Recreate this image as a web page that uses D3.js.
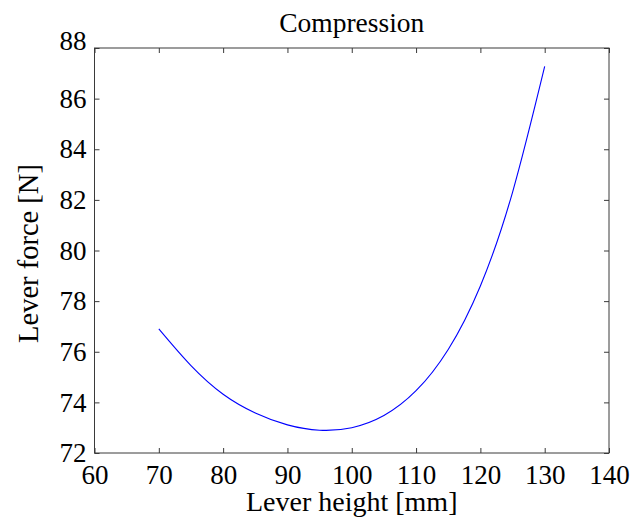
<!DOCTYPE html>
<html>
<head>
<meta charset="utf-8">
<script src="https://cdn.jsdelivr.net/npm/d3@7"></script>
<style>
  html, body { margin: 0; padding: 0; background: #fff; }
  svg { display: block; }
  svg text { font-family: "Liberation Serif", serif; }
</style>
</head>
<body>
<svg id="chart" width="630" height="520"></svg>
<script>
const heights = [70, 75, 80, 85, 90, 95, 100, 105, 110, 115, 120, 125, 130];
const forces  = [76.9, 75.45, 74.32, 73.58, 73.11, 72.9, 73.0, 73.48, 74.46, 76.09, 78.6, 82.3, 87.27];
const xTicks = [60, 70, 80, 90, 100, 110, 120, 130, 140];
const yTicks = [72, 74, 76, 78, 80, 82, 84, 86, 88];
const titleText = "Compression";
const xLabelText = "Lever height [mm]";
const yLabelText = "Lever force [N]";

const svg = d3.select("#chart");
const m = { left: 94.5, right: 609, top: 48, bottom: 453 };

const x = d3.scaleLinear().domain([60, 140]).range([m.left, m.right]);
const y = d3.scaleLinear().domain([72, 88]).range([m.bottom, m.top]);

const axisColor = "#3a3a3a";
const tickLen = 5;
const serif = '"Liberation Serif", serif';
const fontSize = 27;

svg.append("rect")
  .attr("x", m.left).attr("y", m.top)
  .attr("width", m.right - m.left).attr("height", m.bottom - m.top)
  .attr("fill", "none").attr("stroke", axisColor).attr("stroke-width", 1);

const xAxisB = d3.axisBottom(x).tickValues(xTicks).tickSize(-tickLen).tickPadding(12).tickFormat(d3.format("d"));
const xAxisT = d3.axisTop(x).tickValues(xTicks).tickSize(-tickLen).tickFormat("");
const yAxisL = d3.axisLeft(y).tickValues(yTicks).tickSize(-tickLen).tickPadding(8).tickFormat(d3.format("d"));
const yAxisR = d3.axisRight(y).tickValues(yTicks).tickSize(-tickLen).tickFormat("");

function styleAxis(g) {
  g.attr("font-family", null).attr("font-size", null);
  g.select(".domain").remove();
  g.selectAll(".tick line").attr("stroke", axisColor).attr("stroke-width", 1);
  g.selectAll(".tick text").style("font-family", serif).style("font-size", fontSize + "px").attr("fill", "#000");
}

svg.append("g").attr("transform", `translate(0,${m.bottom})`).call(xAxisB).call(styleAxis);
svg.append("g").attr("transform", `translate(0,${m.top})`).call(xAxisT).call(styleAxis);
const gy = svg.append("g").attr("transform", `translate(${m.left},0)`).call(yAxisL).call(styleAxis);
svg.append("g").attr("transform", `translate(${m.right},0)`).call(yAxisR).call(styleAxis);

// top label sits slightly above the top edge, as in the reference
gy.selectAll(".tick text").filter(d => d === 88).attr("dy", "0.06em");

const line = d3.line()
  .x((d, i) => x(heights[i]))
  .y(d => y(d))
  .curve(d3.curveNatural);

svg.append("path")
  .datum(forces)
  .attr("d", line)
  .attr("fill", "none")
  .attr("stroke", "#0000ff")
  .attr("stroke-width", 1.1);

svg.append("text")
  .attr("x", (m.left + m.right) / 2).attr("y", 32)
  .attr("text-anchor", "middle").style("font-size", "27.5px")
  .text(titleText);

svg.append("text")
  .attr("x", (m.left + m.right) / 2).attr("y", 511)
  .attr("text-anchor", "middle").style("font-size", "28px")
  .text(xLabelText);

svg.append("text")
  .attr("transform", `translate(38,${(m.top + m.bottom) / 2 + 3}) rotate(-90)`)
  .attr("text-anchor", "middle").style("font-size", "28.5px")
  .text(yLabelText);
</script>
</body>
</html>
